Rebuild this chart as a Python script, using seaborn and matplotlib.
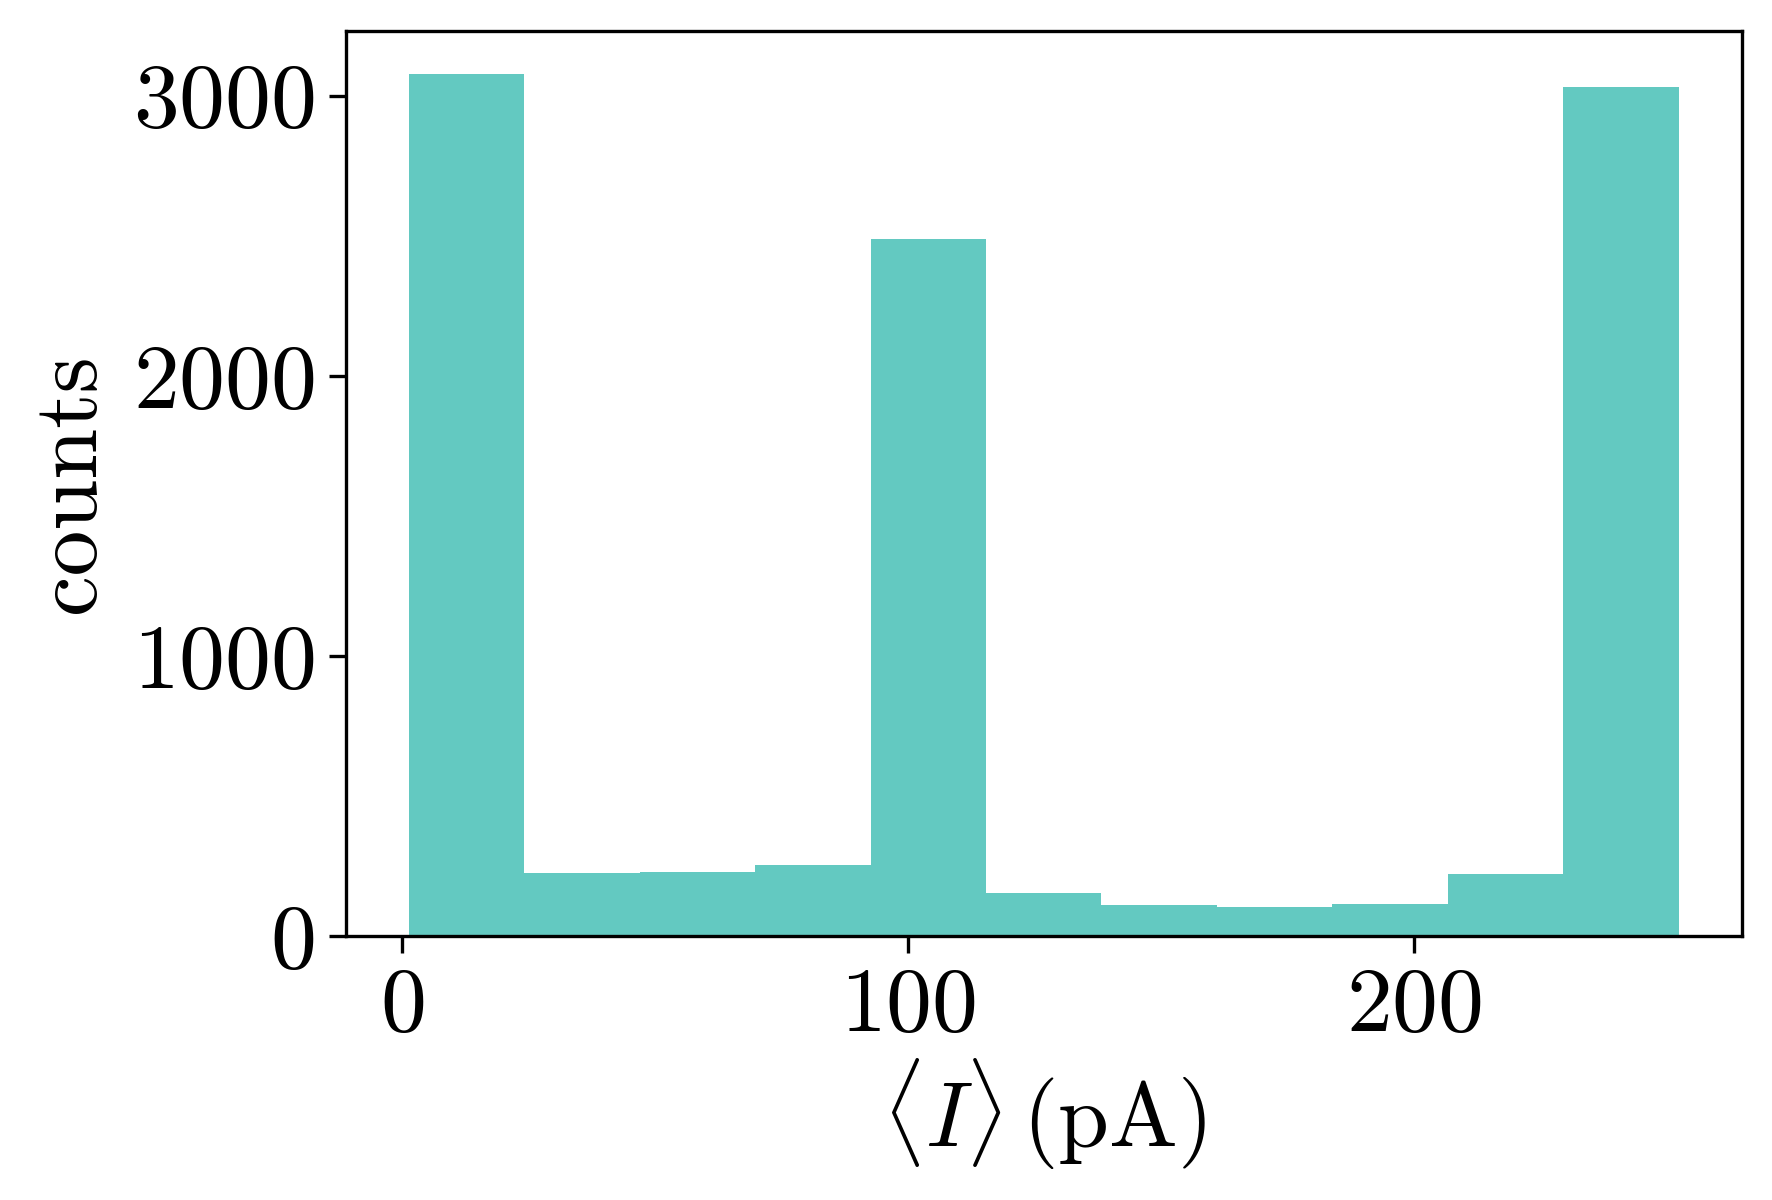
import numpy as np
import pandas as pd
import matplotlib
matplotlib.use("Agg")
import matplotlib.pyplot as plt
import seaborn as sns

# histogram (11 equal bins)
current_lo = 1.4
current_hi = 252.3
n_bins = 11
counts = [3076, 226, 230, 254, 2488, 153, 109, 105, 116, 222, 3029]

bin_edges = np.linspace(current_lo, current_hi, n_bins + 1)
hist_df = pd.DataFrame({"current": 0.5 * (bin_edges[:-1] + bin_edges[1:]),
                        "counts": counts})

sns.set_style("ticks")
plt.rcParams["font.family"] = "serif"
plt.rcParams["font.serif"] = ["cmr10", "DejaVu Serif"]
plt.rcParams["mathtext.fontset"] = "cm"
plt.rcParams["axes.formatter.use_mathtext"] = True
plt.rcParams["axes.unicode_minus"] = False
plt.rcParams["font.size"] = 22
for key in ["text.color", "axes.labelcolor", "xtick.color", "ytick.color"]:
    plt.rcParams[key] = "black"

fig, ax = plt.subplots(figsize=(5.907, 4.0), dpi=300)
fig.subplots_adjust(left=0.195, right=0.983, bottom=0.22, top=0.974)

sns.histplot(data=hist_df, x="current", weights="counts", bins=n_bins,
             binrange=(current_lo, current_hi), color="#63c9c1",
             alpha=1, linewidth=0, ax=ax)

ax.set_xticks([0, 100, 200])
ax.set_yticks([0, 1000, 2000, 3000])
ax.set_xlabel(r"$\langle I\rangle\,(\mathrm{pA})$", fontsize=22, labelpad=2)
ax.set_ylabel("counts", fontsize=22, labelpad=5)
ax.tick_params(labelsize=22, width=0.8, length=4, color="black")
for s in ax.spines.values():
    s.set_visible(True)
    s.set_color("black")
    s.set_linewidth(0.8)

fig.savefig("out.png", dpi=300)
